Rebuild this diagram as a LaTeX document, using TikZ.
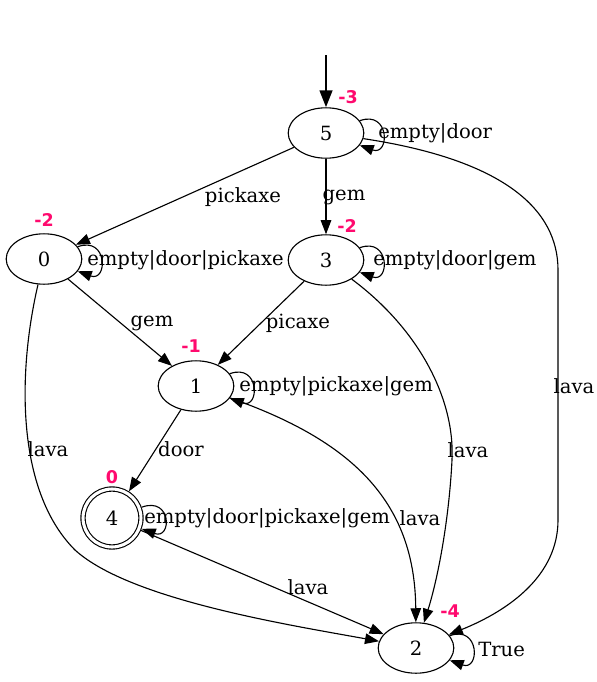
\documentclass[tikz,border=0pt]{standalone}
\usepackage{fontspec}
\setmainfont{DejaVu Serif}
\newfontfamily\rankfont{DejaVu Sans}
\usepackage{tikz}
\usepackage{xcolor}
\usetikzlibrary{arrows.meta,shapes.geometric}
\definecolor{ink}{HTML}{000000}
\definecolor{rankpink}{HTML}{FF0A6E}
\tikzset{
  every loop/.style={},
  state/.style={draw=ink,ellipse,line width=0.8pt,
                minimum width=54pt,minimum height=36pt,
                inner sep=0pt,font=\fontsize{14}{16}\selectfont},
  goal/.style={draw=ink,circle,double,double distance=2.2pt,line width=0.8pt,
               minimum size=41.4pt,inner sep=0pt,outer sep=1.9pt,
               font=\fontsize{14}{16}\selectfont},
  edgelbl/.style={inner sep=0pt,font=\fontsize{14}{16}\selectfont},
  looplbl/.style={edgelbl,anchor=west},
  rank/.style={inner sep=0pt,text=rankpink,
               font=\rankfont\bfseries\fontsize{12.5}{14}\selectfont},
  trans/.style={-{Triangle[length=10pt,width=7.5pt]},line width=0.8pt,color=ink},
  initarr/.style={-{Triangle[length=12pt,width=9pt]},line width=1.6pt,color=ink},
  selfloop/.style={trans,loop,out=20,in=-20,min distance=23pt}
}

\begin{document}
\begin{tikzpicture}[x=0.7143pt,y=-0.7143pt]
  \useasboundingbox (0,0) rectangle (597,682);
  \coordinate (init) at (326,55);
  \node[state] (n5) at (326,133) {5};
  \node[state] (n0) at (44,259) {0};
  \node[state] (n3) at (326,260) {3};
  \node[state] (n1) at (196,386) {1};
  \node[goal] (n4) at (112,518) {4};
  \node[state] (n2) at (416,648) {2};
  \node[rank] (r5) at (348,97) {-3};
  \node[rank] (r0) at (44,220) {-2};
  \node[rank] (r3) at (347,226) {-2};
  \node[rank] (r1) at (191,346) {-1};
  \node[rank] (r4) at (112,477) {0};
  \node[rank] (r2) at (450,611) {-4};
  \draw[initarr] (init) -- (n5);
  \draw[selfloop] (n5) to (n5);
  \draw[selfloop] (n0) to (n0);
  \draw[selfloop] (n3) to (n3);
  \draw[selfloop] (n1) to (n1);
  \draw[selfloop] (n4) to (n4);
  \draw[selfloop] (n2) to (n2);
  \draw[trans] (n5) -- (n0);
  \draw[trans] (n5) -- (n3);
  \draw[trans] (n5) .. controls (505,160) and (558,210) .. (558,270)
    -- (558,520) .. controls (558,575) and (510,610) .. (n2);
  \draw[trans] (n0) -- (n1);
  \draw[trans] (n0) .. controls (18,370) and (15,490) .. (75,550)
    .. controls (130,600) and (290,625) .. (n2);
  \draw[trans] (n3) -- (n1);
  \draw[trans] (n3) .. controls (420,330) and (455,400) .. (452,460)
    .. controls (449,520) and (438,578) .. (n2);
  \draw[trans] (n1) -- (n4);
  \draw[trans] (n1) .. controls (350,440) and (415,500) .. (n2);
  \draw[trans] (n4) -- (n2);
  \node[looplbl] (l55) at (378,133) {empty|door};
  \node[looplbl] (l00) at (87,260) {empty|door|pickaxe};
  \node[looplbl] (l33) at (373,260) {empty|door|gem};
  \node[looplbl] (l11) at (239,386) {empty|pickaxe|gem};
  \node[looplbl] (l44) at (144,518) {empty|door|pickaxe|gem};
  \node[looplbl] (l22) at (478,649) {True};
  \node[edgelbl] (l50) at (243,197) {pickaxe};
  \node[edgelbl] (l53) at (344,197) {gem};
  \node[edgelbl] (l52) at (574,386) {lava};
  \node[edgelbl] (l01) at (152,323) {gem};
  \node[edgelbl] (l31) at (298,323) {picaxe};
  \node[edgelbl] (l02) at (48,449) {lava};
  \node[edgelbl] (l14) at (181,449) {door};
  \node[edgelbl] (l32) at (468,450) {lava};
  \node[edgelbl] (l12) at (420,518) {lava};
  \node[edgelbl] (l42) at (308,587) {lava};
\end{tikzpicture}
\end{document}
